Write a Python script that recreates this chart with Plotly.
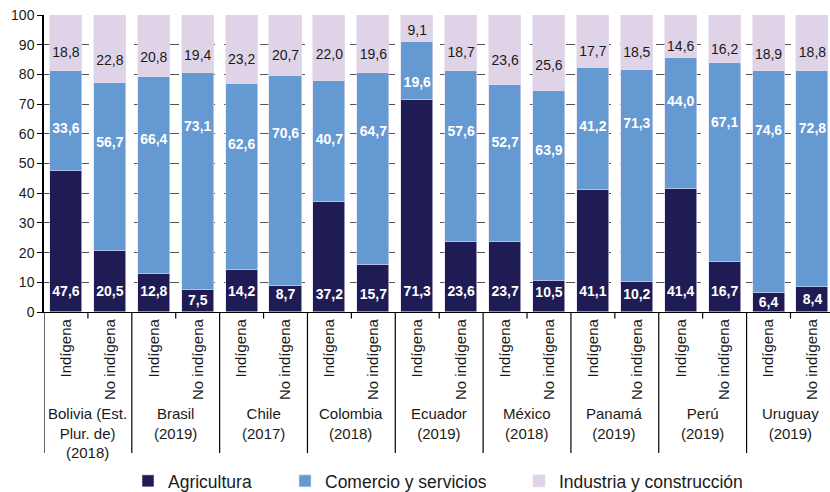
import plotly.graph_objects as go

# ---- data ----
countries = ["Bolivia (Est.<br>Plur. de)<br>(2018)", "Brasil<br>(2019)", "Chile<br>(2017)",
             "Colombia<br>(2018)", "Ecuador<br>(2019)", "México<br>(2018)",
             "Panamá<br>(2019)", "Perú<br>(2019)", "Uruguay<br>(2019)"]
groups = ["Indígena", "No indígena"]

agricultura = [47.6, 20.5, 12.8, 7.5, 14.2, 8.7, 37.2, 15.7, 71.3, 23.6, 23.7, 10.5, 41.1, 10.2, 41.4, 16.7, 6.4, 8.4]
comercio = [33.6, 56.7, 66.4, 73.1, 62.6, 70.6, 40.7, 64.7, 19.6, 57.6, 52.7, 63.9, 41.2, 71.3, 44.0, 67.1, 74.6, 72.8]
industria = [18.8, 22.8, 20.8, 19.4, 23.2, 20.7, 22.0, 19.6, 9.1, 18.7, 23.6, 25.6, 17.7, 18.5, 14.6, 16.2, 18.9, 18.8]

# label anchor heights (value units) as placed in the original
agri_label_pos = [6.4, 6.4, 6.4, 3.4, 6.4, 5.4, 5.4, 5.4, 6.4, 6.4, 6.4, 6.1, 6.4, 5.7, 6.4, 6.4, 3.0, 4.0]
com_label_pos = [61.6, 56.9, 57.9, 62.0, 56.2, 59.6, 57.9, 60.3, 77.1, 60.6, 56.6, 54.2, 62.0, 63.0, 70.7, 63.6, 60.9, 61.3]
ind_label_pos = [87.2, 84.2, 85.2, 85.9, 84.8, 85.9, 86.5, 86.5, 94.6, 86.9, 84.5, 82.5, 87.5, 86.9, 88.9, 88.2, 86.5, 86.9]

series_names = ["Agricultura", "Comercio y servicios", "Industria y construcción"]
colors = ["#1f1c55", "#6499d2", "#dfd3e8"]

FONT = "Arial, Liberation Sans, sans-serif"
W, H = 830, 492

n = len(agricultura)
x = list(range(n))
ticktext = [groups[i % 2] for i in range(n)]


def fmt(v):
    return f"{v:.1f}".replace(".", ",")


legend_names = ["legend", "legend2", "legend3"]
legend_left_px = [128, 285, 519]   # page pixels of each legend entry's left edge

fig = go.Figure()
for name, vals, col, lg in zip(series_names, [agricultura, comercio, industria], colors, legend_names):
    fig.add_trace(go.Bar(
        x=x, y=vals, name=name, marker=dict(color=col, line=dict(width=0.6, color="#e4dcee")),
        width=0.73, hoverinfo="skip", legend=lg))

for vals, pos, color, weight in [(agricultura, agri_label_pos, "white", "bold"),
                                 (comercio, com_label_pos, "white", "bold"),
                                 (industria, ind_label_pos, "#1a1a1a", "normal")]:
    fig.add_trace(go.Scatter(
        x=x, y=pos, mode="text", text=[fmt(v) for v in vals],
        textfont=dict(family=FONT, size=14, color=color, weight=weight),
        showlegend=False, hoverinfo="skip", cliponaxis=False))

# axis decorations below the x axis: short ticks within groups, long separators between groups
shapes = []
for k in range(len(countries)):
    shapes.append(dict(type="line", xref="x", yref="paper", x0=2 * k + 0.5, x1=2 * k + 0.5,
                       y0=0, y1=-0.022, line=dict(color="black", width=1.2)))
for k in range(len(countries)):
    xs = 2 * k - 0.5
    shapes.append(dict(type="line", xref="x", yref="paper", x0=xs, x1=xs,
                       y0=0, y1=-0.475, line=dict(color="black", width=1.2)))

annotations = []
for k, c in enumerate(countries):
    annotations.append(dict(x=2 * k + 0.5, y=-0.306, xref="x", yref="paper", text=c,
                            showarrow=False, yanchor="top", xanchor="center", align="center",
                            font=dict(family=FONT, size=15, color="#1a1a1a")))

legend_common = dict(orientation="h", yref="container", xref="container", yanchor="top",
                     y=(H - 463) / H, xanchor="left",
                     font=dict(family=FONT, size=17.5, color="#1a1a1a"),
                     itemclick=False, bgcolor="rgba(0,0,0,0)")
legends = {}
for lg, px in zip(legend_names, legend_left_px):
    legends[lg] = dict(legend_common, x=px / W)

fig.update_layout(
    barmode="stack",
    width=W, height=H,
    margin=dict(l=44, r=0, t=15, b=180),
    paper_bgcolor="white", plot_bgcolor="white",
    font=dict(family=FONT, color="#1a1a1a"),
    bargap=0,
    shapes=shapes,
    annotations=annotations,
    xaxis=dict(range=[-0.5, 17.4], tickvals=x, ticktext=ticktext, tickangle=-90,
               ticks="", showline=True, linecolor="black", linewidth=1.2,
               showgrid=False, zeroline=False, tickfont=dict(family=FONT, size=15, color="#1a1a1a")),
    yaxis=dict(range=[0, 100], dtick=10, ticks="outside", ticklen=5, tickcolor="black",
               showline=True, linecolor="black", linewidth=1.5,
               showgrid=True, gridcolor="#555555", griddash="dash", gridwidth=1,
               zeroline=False, tickfont=dict(family=FONT, size=14, color="#1a1a1a")),
    **legends,
)

fig.write_html("out.html", config={"displayModeBar": False},
               post_script="document.body.style.margin='0';document.body.style.overflow='hidden';")
